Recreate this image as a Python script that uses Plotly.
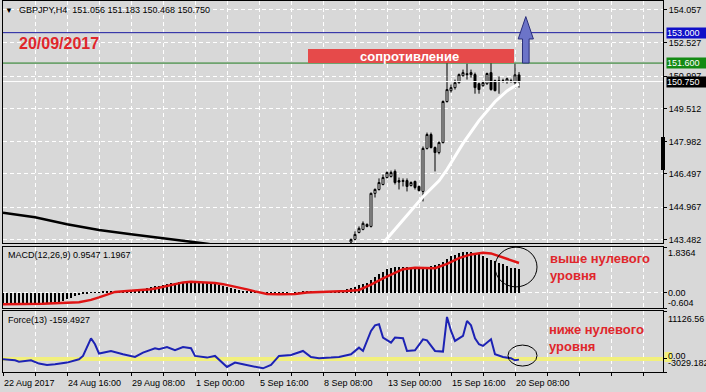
import plotly.graph_objects as go

# ---------------- canvas / layout helpers ----------------
W, H = 706, 392
ML, MR, MT, MB = 3, 43, 1, 20
PW, PH = W - ML - MR, H - MT - MB


def px_x(px):
    return (px - ML) / PW


def px_y(py):
    return (H - MB - py) / PH


# ---------------- data ----------------
header_text = "GBPJPY,H4  151.056 151.183 150.468 150.750"
date_text = "20/09/2017"
macd_title = "MACD(12,26,9) 0.9547 1.1967"
force_title = "Force(13) -159.4927"
resist_text = "сопротивление"
macd_note = "выше нулевого<br>уровня"
force_note = "ниже нулевого<br>уровня"

x_label_bars = [0, 16, 32, 48, 64, 80, 96, 112, 128]
x_label_text = ["22 Aug 2017", "24 Aug 16:00", "29 Aug 08:00", "1 Sep 00:00",
                "5 Sep 16:00", "8 Sep 08:00", "13 Sep 00:00", "15 Sep 16:00",
                "20 Sep 08:00"]

price_ticks = [154.057, 152.527, 150.997, 149.512, 147.982, 146.497, 144.967, 143.482]
price_range = [143.316, 154.458]
macd_range = [-0.604, 1.8364]
force_range = [-3029.182, 11126.56]
x_range = [0, 165]

level_blue = 153.000
level_green = 151.600
level_bid = 150.750
force_level = 0.0

candle_bar = list(range(87, 130))
c_open = [143.36, 143.48, 143.80, 143.94, 144.17, 144.08, 145.60, 145.78, 146.01, 146.33,
          146.38, 146.61, 146.19, 146.15, 146.19, 145.96, 146.15, 145.92, 145.69, 147.67,
          148.31, 147.71, 147.48, 147.94, 149.83, 150.33, 150.47, 150.70, 151.02, 151.11,
          151.07, 151.07, 150.65, 150.56, 150.65, 151.16, 150.79, 150.79, 150.75, 150.75,
          150.79, 150.70, 151.056]
c_high = [143.52, 143.85, 144.08, 144.31, 144.22, 145.64, 145.83, 146.29, 146.47, 146.61,
          146.65, 146.70, 146.33, 146.29, 146.29, 146.15, 146.19, 145.96, 147.76, 148.40,
          148.40, 147.76, 148.00, 149.88, 151.60, 150.61, 150.84, 151.12, 151.30, 151.57,
          151.30, 151.16, 150.70, 150.79, 151.16, 151.60, 150.84, 150.98, 150.88, 150.93,
          150.88, 151.57, 151.183]
c_low = [143.30, 143.44, 143.76, 143.90, 144.04, 144.03, 145.41, 145.73, 145.97, 146.29,
         146.33, 146.01, 145.78, 145.92, 145.69, 145.92, 145.78, 145.69, 145.23, 147.62,
         147.67, 146.61, 147.40, 147.90, 149.78, 150.24, 150.38, 150.65, 150.98, 150.84,
         150.93, 150.19, 150.19, 150.51, 150.60, 150.33, 150.30, 150.19, 150.70, 150.65,
         150.70, 150.47, 150.468]
c_close = [143.48, 143.71, 143.99, 144.22, 144.08, 145.60, 145.78, 146.10, 146.33, 146.56,
           146.56, 146.10, 146.12, 146.19, 145.92, 146.10, 145.87, 145.73, 147.67, 148.31,
           147.71, 147.48, 147.94, 149.83, 150.38, 150.47, 150.70, 151.07, 151.16, 151.07,
           151.16, 150.47, 150.38, 150.70, 151.12, 150.38, 150.33, 150.75, 150.79, 150.88,
           150.75, 151.06, 150.750]

ma_slow_bar = [0, 8, 16, 24, 32, 41, 46, 51, 56]
ma_slow_val = [144.71, 144.50, 144.18, 143.91, 143.72, 143.52, 143.38, 143.28, 143.15]

ma_fast_bar = [95, 102, 105, 109, 111, 115, 119, 123, 126, 128, 129]
ma_fast_val = [143.30, 144.84, 145.45, 146.18, 146.70, 147.90, 148.95, 149.82, 150.32, 150.55, 150.63]

macd_bar = list(range(130))
macd_hist = [
    -0.45, -0.45, -0.45, -0.45, -0.44, -0.44, -0.44, -0.43, -0.43, -0.42, -0.42,
    -0.41, -0.40, -0.38, -0.35, -0.31, -0.26, -0.20,
    -0.13, -0.08, -0.04, -0.01, 0.01, 0.02, 0.03,
    0.04, 0.05, 0.06, 0.07, 0.08, 0.09, 0.10, 0.11, 0.12, 0.14, 0.16,
    0.19, 0.22, 0.26, 0.29, 0.32, 0.35, 0.38, 0.41, 0.43, 0.45, 0.46,
    0.46, 0.45, 0.44, 0.42, 0.40, 0.37, 0.34, 0.30, 0.26, 0.22, 0.18,
    0.14, 0.11, 0.08, 0.06, 0.04, 0.02, 0.01,
    0.00, -0.01, -0.02, -0.02, -0.02, -0.01, -0.01, 0.00, 0.01,
    0.03, 0.04, 0.05, 0.06, 0.06, 0.07, 0.07, 0.06, 0.06,
    0.07, 0.09, 0.12, 0.15, 0.20, 0.25, 0.30, 0.35, 0.40,
    0.50, 0.62, 0.74, 0.85, 0.94, 1.00, 1.03, 1.04, 1.04, 1.03, 1.01, 0.99, 0.96,
    0.98, 1.04, 1.08, 1.10, 1.14, 1.24, 1.36, 1.46, 1.53, 1.59, 1.63,
    1.65, 1.64, 1.60, 1.54, 1.48, 1.41, 1.33, 1.26, 1.20, 1.14, 1.07, 1.01, 0.98, 0.9547,
]

signal_bar = [0, 10, 19, 22, 24, 26, 28, 31, 34, 37, 39, 41, 43, 45, 47, 50, 53, 55, 58, 61,
              63, 66, 69, 73, 76, 79, 83, 86, 89, 92, 95, 97, 100, 103, 106, 108, 111, 114,
              117, 120, 122, 125, 127, 129]
signal_val = [-0.45, -0.43, -0.37, -0.28, -0.18, -0.06, 0.04, 0.08, 0.11, 0.15, 0.21, 0.29,
              0.36, 0.42, 0.45, 0.44, 0.40, 0.35, 0.26, 0.14, 0.06, -0.04, -0.05, -0.04,
              0.02, 0.04, 0.04, 0.08, 0.12, 0.33, 0.58, 0.74, 0.95, 1.01, 1.00, 0.99, 1.16,
              1.39, 1.54, 1.61, 1.58, 1.41, 1.30, 1.1967]

force_bar = [0, 3, 4, 7, 9, 11, 13, 16, 19, 20, 22, 23, 24, 27, 30, 33, 35, 38, 39, 41, 43,
             45, 47, 48, 51, 53, 56, 58, 60, 63, 65, 67, 68, 69, 72, 75, 77, 79, 82, 84, 87,
             89, 90, 92, 93, 94, 95, 97, 98, 100, 101, 103, 105, 106, 108, 110, 111, 112,
             113, 115, 116, 117, 118, 119, 120, 122, 123, 125, 127, 128, 129]
force_val = [-80, -310, -620, -310, -1080, -1390, -1240, -850, -80, 700, 4790, 3400, 1240,
             1860, 1080, 460, 1470, 2480, 2240, 2780, 2010, 2780, 2480, 700, 310, 700, -1860,
             -850, -1240, -1860, -2170, -1390, -460, 700, 930, 1860, 460, 150, 310, 460,
             1080, 2630, 1860, 6500, 7800, 8040, 4950, 3790, 4950, 4790, 1860, 2010, 4560,
             4330, 1860, 1700, 9740, 6500, 4180, 5340, 8820, 7800, 4800, 3400, 3020, 4560,
             1080, 460, 155, -310, -159.4927]

# annotation geometry (bar index / value units)
resist_box = dict(x0=76.25, x1=127.75, y0=151.6, y1=152.25)
arrow_geo = dict(cx=130.7, body=0.83, head=1.9, base=151.6, neck=152.71, tip=153.74)
macd_circle = dict(x0=123.0, x1=133.5, y0=0.24, y1=1.83)
force_circle = dict(x0=126.25, x1=133.5, y0=-1650, y1=3220)

assert len(macd_hist) == len(macd_bar)
assert len(signal_bar) == len(signal_val)
assert len(force_bar) == len(force_val)
assert len(candle_bar) == len(c_open) == len(c_high) == len(c_low) == len(c_close)

# ---------------- styling ----------------
BG = "#D8D8D8"
FONT = "Liberation Sans, Arial, DejaVu Sans, sans-serif"
RED_TXT = "#E0262B"
GRID = dict(showgrid=True, gridcolor="white", gridwidth=1, griddash="4px,3px")
BOX = dict(showline=True, mirror=True, linecolor="black", linewidth=1, zeroline=False)

fig = go.Figure()

# main panel
fig.add_trace(go.Scatter(x=x_range, y=[level_bid, level_bid], mode="lines",
                         line=dict(color="white", width=1), xaxis="x", yaxis="y",
                         hoverinfo="skip"))
fig.add_trace(go.Scatter(x=ma_slow_bar, y=ma_slow_val, mode="lines",
                         line=dict(color="black", width=2.5), xaxis="x", yaxis="y",
                         hoverinfo="skip"))
fig.add_trace(go.Scatter(x=ma_fast_bar, y=ma_fast_val, mode="lines",
                         line=dict(color="white", width=3), xaxis="x", yaxis="y",
                         hoverinfo="skip"))
fig.add_trace(go.Candlestick(x=candle_bar, open=c_open, high=c_high, low=c_low, close=c_close,
                             increasing=dict(fillcolor="white", line=dict(color="black", width=1)),
                             decreasing=dict(fillcolor="black", line=dict(color="black", width=1)),
                             whiskerwidth=0, xaxis="x", yaxis="y"))

# MACD panel
fig.add_trace(go.Bar(x=macd_bar, y=macd_hist, width=0.2,
                     marker=dict(color="black", line=dict(width=0)),
                     xaxis="x2", yaxis="y2"))
fig.add_trace(go.Scatter(x=signal_bar, y=signal_val, mode="lines",
                         line=dict(color="#E01414", width=2.5), xaxis="x2", yaxis="y2"))

# Force panel
fig.add_trace(go.Scatter(x=x_range, y=[force_level, force_level], mode="lines",
                         line=dict(color="#F2F07C", width=4), xaxis="x3", yaxis="y3",
                         hoverinfo="skip"))
fig.add_trace(go.Scatter(x=force_bar, y=force_val, mode="lines",
                         line=dict(color="#1C22B4", width=2), xaxis="x3", yaxis="y3"))

shapes = []
# horizontal level lines
shapes.append(dict(type="line", xref="x domain", yref="y", x0=0, x1=1, y0=level_blue, y1=level_blue,
                   line=dict(color="#1C1CA0", width=1), layer="above"))
shapes.append(dict(type="line", xref="x domain", yref="y", x0=0, x1=1, y0=level_green, y1=level_green,
                   line=dict(color="#1E7A1E", width=1), layer="above"))
# resistance box
shapes.append(dict(type="rect", xref="x", yref="y", line=dict(width=0), fillcolor="#E64A4A",
                   layer="above", **resist_box))
# arrow
a = arrow_geo
path = (f"M {a['cx']-a['body']},{a['base']} L {a['cx']-a['body']},{a['neck']} "
        f"L {a['cx']-a['head']},{a['neck']} L {a['cx']},{a['tip']} "
        f"L {a['cx']+a['head']},{a['neck']} L {a['cx']+a['body']},{a['neck']} "
        f"L {a['cx']+a['body']},{a['base']} Z")
shapes.append(dict(type="path", xref="x", yref="y", path=path, fillcolor="#6C74C8",
                   line=dict(color="#2A2E7A", width=1), layer="above"))
# circles
shapes.append(dict(type="circle", xref="x2", yref="y2", line=dict(color="black", width=1),
                   layer="above", **macd_circle))
shapes.append(dict(type="circle", xref="x3", yref="y3", line=dict(color="black", width=1),
                   layer="above", **force_circle))
# right-border black marker
shapes.append(dict(type="rect", xref="paper", yref="paper", x0=px_x(661), x1=px_x(665),
                   y0=px_y(170), y1=px_y(137), fillcolor="black", line=dict(width=0),
                   layer="above"))
# yellow level tag on force axis
shapes.append(dict(type="rect", xref="paper", yref="paper", x0=px_x(664.5), x1=px_x(672),
                   y0=px_y(362), y1=px_y(352), fillcolor="#F2F07C", line=dict(width=0),
                   layer="below"))

ann = []


def txt(x, y, text, size=9, color="black", xanchor="left", yanchor="middle", **kw):
    d = dict(x=x, y=y, xref="paper", yref="paper", text=text, showarrow=False,
             xanchor=xanchor, yanchor=yanchor, font=dict(family=FONT, size=size, color=color),
             borderpad=0)
    d.update(kw)
    ann.append(d)


txt(px_x(4), px_y(10.5), "▼", size=8)
txt(px_x(17.5), px_y(10.5), header_text, size=9)
txt(px_x(17.5), px_y(43.5), f"<b>{date_text}</b>", size=16, color=RED_TXT)
txt(px_x(6.5), px_y(255), macd_title, size=9)
txt(px_x(6.5), px_y(320), force_title, size=9)
txt(px_x(549), px_y(266.5), f"<b>{macd_note}</b>", size=13, color=RED_TXT, align="left")
txt(px_x(548), px_y(337.5), f"<b>{force_note}</b>", size=13, color=RED_TXT, align="left")

# resistance label
ann.append(dict(x=(resist_box["x0"] + resist_box["x1"]) / 2 - 0.5,
                y=(resist_box["y0"] + resist_box["y1"]) / 2, xref="x", yref="y",
                text=f"<b>{resist_text}</b>", showarrow=False,
                font=dict(family=FONT, size=13, color="white")))

# MACD / Force axis labels
txt(px_x(666.5), px_y(252.5), f"{macd_range[1]:.4f}")
txt(px_x(666.5), px_y(293), "0.00")
txt(px_x(666.5), px_y(302.5), f"{macd_range[0]:.3f}")
txt(px_x(666.5), px_y(319), f"{force_range[1]:.2f}")
txt(px_x(666.5), px_y(362.5), f"{force_range[0]:.3f}")
txt(px_x(666.5), px_y(356), "0.00")

# level tags on price axis
for val, col in [(level_blue, "#1010C8"), (level_green, "#138A13"), (level_bid, "black")]:
    ann.append(dict(x=px_x(665.5), y=val, xref="paper", yref="y", text=f"{val:.3f}",
                    showarrow=False, xanchor="left", yanchor="middle", align="left",
                    width=40, height=10, bgcolor=col, borderpad=0,
                    font=dict(family=FONT, size=9, color="white")))

# time labels
for b, t in zip(x_label_bars, x_label_text):
    ann.append(dict(x=b, y=0, xref="x3", yref="paper", text=t, showarrow=False,
                    xanchor="left", yanchor="top", yshift=-4, xshift=-1,
                    font=dict(family=FONT, size=9, color="black")))

xcommon = dict(range=x_range, tick0=0, dtick=8, showticklabels=False, **GRID, **BOX)

fig.update_layout(
    width=W, height=H,
    margin=dict(l=ML, r=MR, t=MT, b=MB, pad=0),
    paper_bgcolor=BG, plot_bgcolor=BG,
    showlegend=False,
    font=dict(family=FONT, size=9, color="black"),
    xaxis=dict(domain=[0, 1], anchor="y", ticks="", rangeslider=dict(visible=False), **xcommon),
    xaxis2=dict(domain=[0, 1], anchor="y2", matches="x", ticks="", **xcommon),
    xaxis3=dict(domain=[0, 1], anchor="y3", matches="x", ticks="outside", ticklen=3,
                tickcolor="black", **xcommon),
    yaxis=dict(domain=[px_y(243), px_y(1)], anchor="x", range=price_range, side="right",
               tickvals=price_ticks, ticktext=[f"{v:.3f}" for v in price_ticks],
               ticks="outside", ticklen=3, tickcolor="black",
               tickfont=dict(family=FONT, size=9, color="black"), **GRID, **BOX),
    yaxis2=dict(domain=[px_y(308), px_y(247)], anchor="x2", range=macd_range, side="right",
                tickvals=[macd_range[1], 0, macd_range[0]], showticklabels=False,
                ticks="outside", ticklen=3, tickcolor="black", **GRID, **BOX),
    yaxis3=dict(domain=[px_y(372), px_y(311)], anchor="x3", range=force_range, side="right",
                tickvals=[force_range[1], force_level, force_range[0]], showticklabels=False,
                ticks="outside", ticklen=3, tickcolor="black", showgrid=False, **BOX),
    shapes=shapes,
    annotations=ann,
    bargap=0,
)

fig.write_html("out.html")
